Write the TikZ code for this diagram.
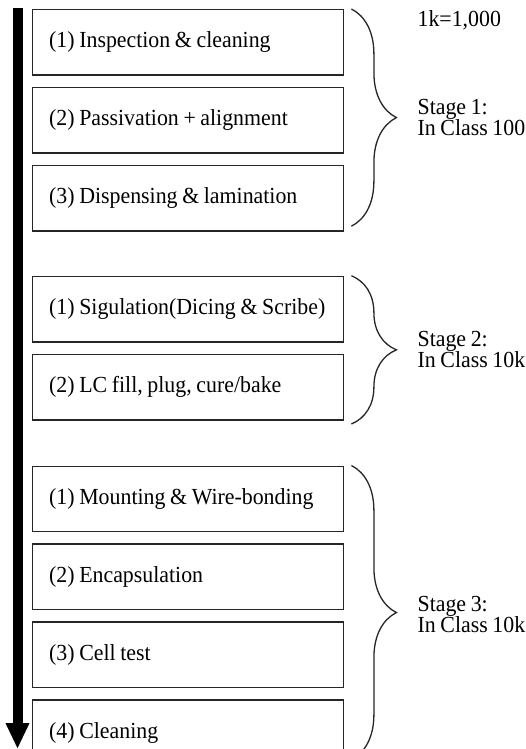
\documentclass[tikz,border=0pt]{standalone}
\usepackage{fontspec}
\setmainfont[FakeStretch=0.95, WordSpace=0.85]{Liberation Serif}
\usetikzlibrary{arrows.meta,positioning,calc,decorations.pathreplacing}
\tikzset{
  stepbox/.style={draw=black!85, line width=1.4pt, minimum height=65.5pt, text width=278pt, inner xsep=16.5pt, inner ysep=0pt, align=flush left},
  stagebrace/.style={decorate, decoration={brace, amplitude=45pt}, line width=1.3pt, draw=black!85},
  stagelabel/.style={anchor=west, align=flush left, inner sep=0pt},
  flow/.style={-{Triangle[length=26pt, width=22pt]}, line width=10pt, draw=black}
}

\begin{document}
\begin{tikzpicture}[node distance=11pt, font=\fontsize{23}{21}\selectfont]
    \useasboundingbox (0,0) rectangle (526pt,-749pt);

    % stage 1
    \node[stepbox, anchor=north west] (a1) at (32pt,-9pt) {(1) Inspection \& cleaning};
    \node[stepbox, below=of a1] (a2) {(2) Passivation + alignment};
    \node[stepbox, below=of a2] (a3) {(3) Dispensing \& lamination};

    % stage 2
    \node[stepbox, below=44pt of a3] (b1) {(1) Sigulation(Dicing \& Scribe)};
    \node[stepbox, below=of b1] (b2) {(2) LC fill, plug, cure/bake};

    % stage 3
    \node[stepbox, below=45pt of b2] (c1) {(1) Mounting \& Wire-bonding};
    \node[stepbox, below=of c1] (c2) {(2) Encapsulation};
    \node[stepbox, below=of c2] (c3) {(3) Cell test};
    \node[stepbox, below=of c3] (c4) {(4) Cleaning};

    % process flow
    \coordinate (flowtop) at (17.5pt,-8pt);
    \coordinate (flowend) at (17.5pt,-749pt);
    \draw[flow] (flowtop) -- (flowend);

    % braces
    \coordinate (t1) at ($(a1.north east)+(7pt,0)$);
    \coordinate (e1) at ($(a3.south east)+(7pt,5.5pt)$);
    \coordinate (t2) at ($(b1.north east)+(7pt,0)$);
    \coordinate (e2) at ($(b2.south east)+(7pt,-3.5pt)$);
    \coordinate (t3) at ($(c1.north east)+(7pt,0)$);
    \coordinate (e3) at ($(c4.south east)+(7pt,6.5pt)$);
    \draw[stagebrace] (t1) -- (e1);
    \draw[stagebrace] (t2) -- (e2);
    \draw[stagebrace] (t3) -- (e3);

    \node[stagelabel] (unit) at ($(t1)+(66pt,-11pt)$) {1k=1,000};
    \node[stagelabel] (s1) at ($(t1)!0.5!(e1)+(66pt,0)$) {Stage 1:\\In Class 100};
    \node[stagelabel] (s2) at ($(t2)!0.5!(e2)+(66pt,0)$) {Stage 2:\\In Class 10k};
    \node[stagelabel] (s3) at ($(t3)!0.5!(e3)+(66pt,-2pt)$) {Stage 3:\\In Class 10k};
  \end{tikzpicture}
\end{document}
